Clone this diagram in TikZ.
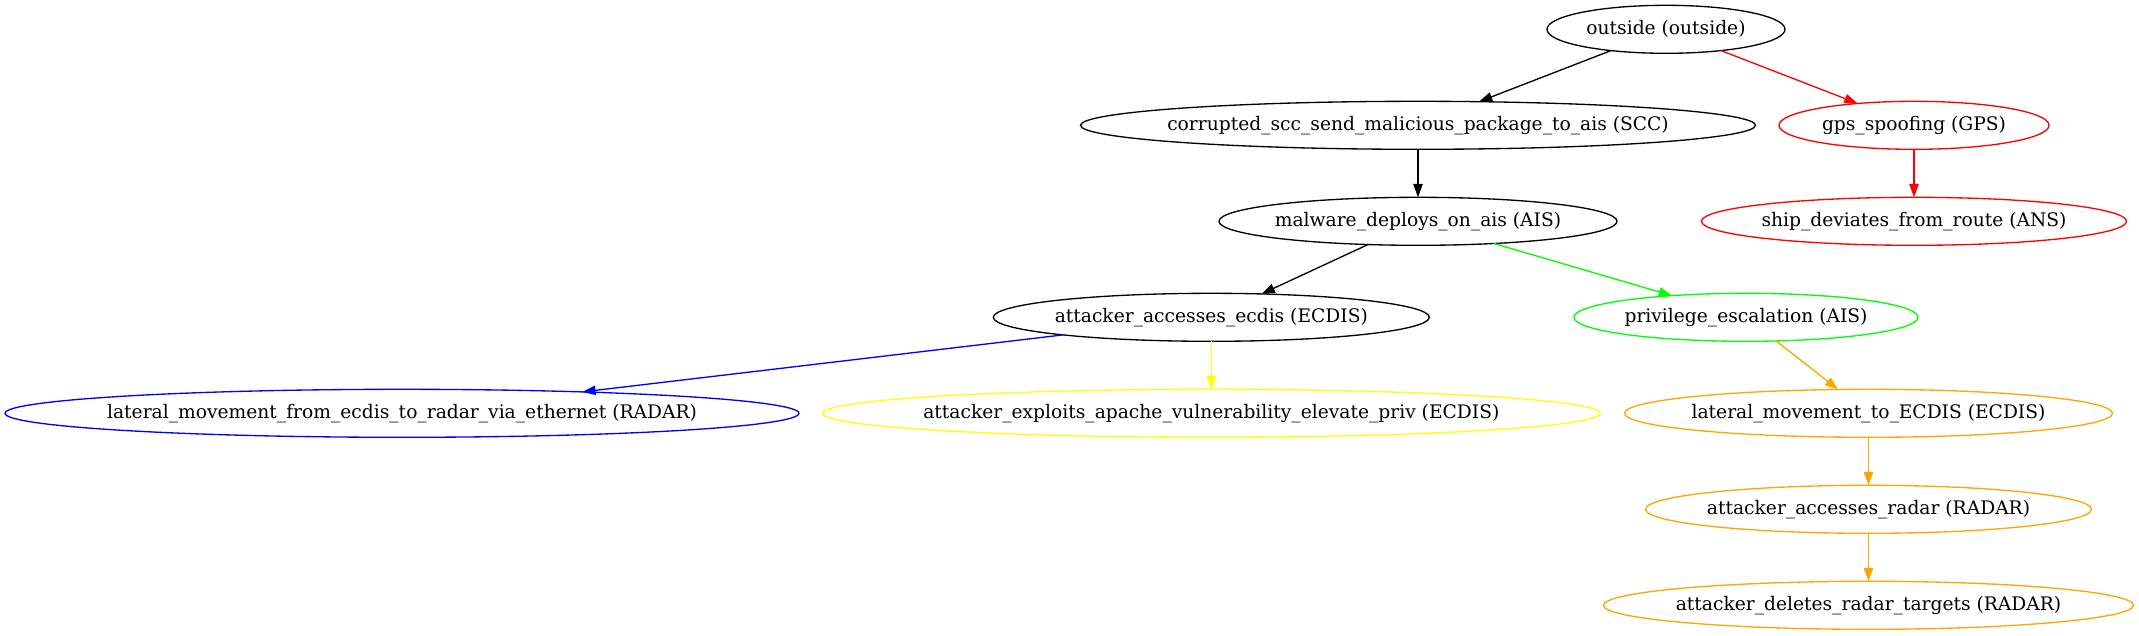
\documentclass[tikz,border=0pt]{standalone}
\usepackage{fontspec}
\setmainfont{DejaVu Serif}
\usetikzlibrary{shapes.geometric,arrows.meta}
\definecolor{gvred}{HTML}{FF0000}
\definecolor{gvgreen}{HTML}{00FF00}
\definecolor{gvblue}{HTML}{0000FF}
\definecolor{gvyellow}{HTML}{FFFF00}
\definecolor{gvorange}{HTML}{FFA500}
\newcommand{\gvlabel}[1]{\makebox[0pt]{#1}}
\tikzset{
  gn/.style={ellipse, draw, line width=1.33pt, inner sep=0pt, outer sep=0pt,
    minimum height=48pt, font=\fontsize{18.67}{22}\selectfont},
  gedge/.style={line width=1.33pt, -{Triangle[length=13.33pt,width=9.33pt]}},
}
\begin{document}
\begin{tikzpicture}[x=1pt,y=-1pt]
\useasboundingbox (0,0) rectangle (2139,635);
% rank 0
\node[gn, minimum width=238pt] (outside) at (1666,29.3) {\gvlabel{outside (outside)}};
% rank 1
\node[gn, minimum width=675pt] (scc) at (1418,125.3) {\gvlabel{corrupted\_scc\_send\_malicious\_package\_to\_ais (SCC)}};
\node[gn, gvred, minimum width=270pt] (gps) at (1914,125.3) {\gvlabel{\color{black}gps\_spoofing (GPS)}};
% rank 2
\node[gn, minimum width=398pt] (ais) at (1418,221.3) {\gvlabel{malware\_deploys\_on\_ais (AIS)}};
\node[gn, gvred, minimum width=425pt] (ans) at (1914,221.3) {\gvlabel{\color{black}ship\_deviates\_from\_route (ANS)}};
% rank 3
\node[gn, minimum width=436pt] (ecdis) at (1211.3,317.3) {\gvlabel{attacker\_accesses\_ecdis (ECDIS)}};
\node[gn, gvgreen, minimum width=344pt] (priv) at (1746,317.3) {\gvlabel{\color{black}privilege\_escalation (AIS)}};
% rank 4
\node[gn, gvblue, minimum width=794pt] (latradar) at (402,413.3) {\gvlabel{\color{black}lateral\_movement\_from\_ecdis\_to\_radar\_via\_ethernet (RADAR)}};
\node[gn, gvyellow, minimum width=778pt] (apache) at (1211.3,413.3) {\gvlabel{\color{black}attacker\_exploits\_apache\_vulnerability\_elevate\_priv (ECDIS)}};
\node[gn, gvorange, minimum width=488pt] (latecdis) at (1868.5,413.3) {\gvlabel{\color{black}lateral\_movement\_to\_ECDIS (ECDIS)}};
% rank 5
\node[gn, gvorange, minimum width=446pt] (accradar) at (1868.5,509.3) {\gvlabel{\color{black}attacker\_accesses\_radar (RADAR)}};
% rank 6
\node[gn, gvorange, minimum width=530pt] (deletes) at (1868.5,605.3) {\gvlabel{\color{black}attacker\_deletes\_radar\_targets (RADAR)}};
% edges
\draw[gedge] (outside) -- (scc);
\draw[gedge, gvred] (outside) -- (gps);
\draw[gedge] (scc) -- (ais);
\draw[gedge, gvred] (gps) -- (ans);
\draw[gedge] (ais) -- (ecdis);
\draw[gedge, gvgreen] (ais) -- (priv);
\draw[gedge, gvblue] (ecdis) -- (latradar);
\draw[gedge, gvyellow] (ecdis) -- (apache);
\draw[gedge, gvorange] (priv) -- (latecdis);
\draw[gedge, gvorange] (latecdis) -- (accradar);
\draw[gedge, gvorange] (accradar) -- (deletes);
\end{tikzpicture}
\end{document}
